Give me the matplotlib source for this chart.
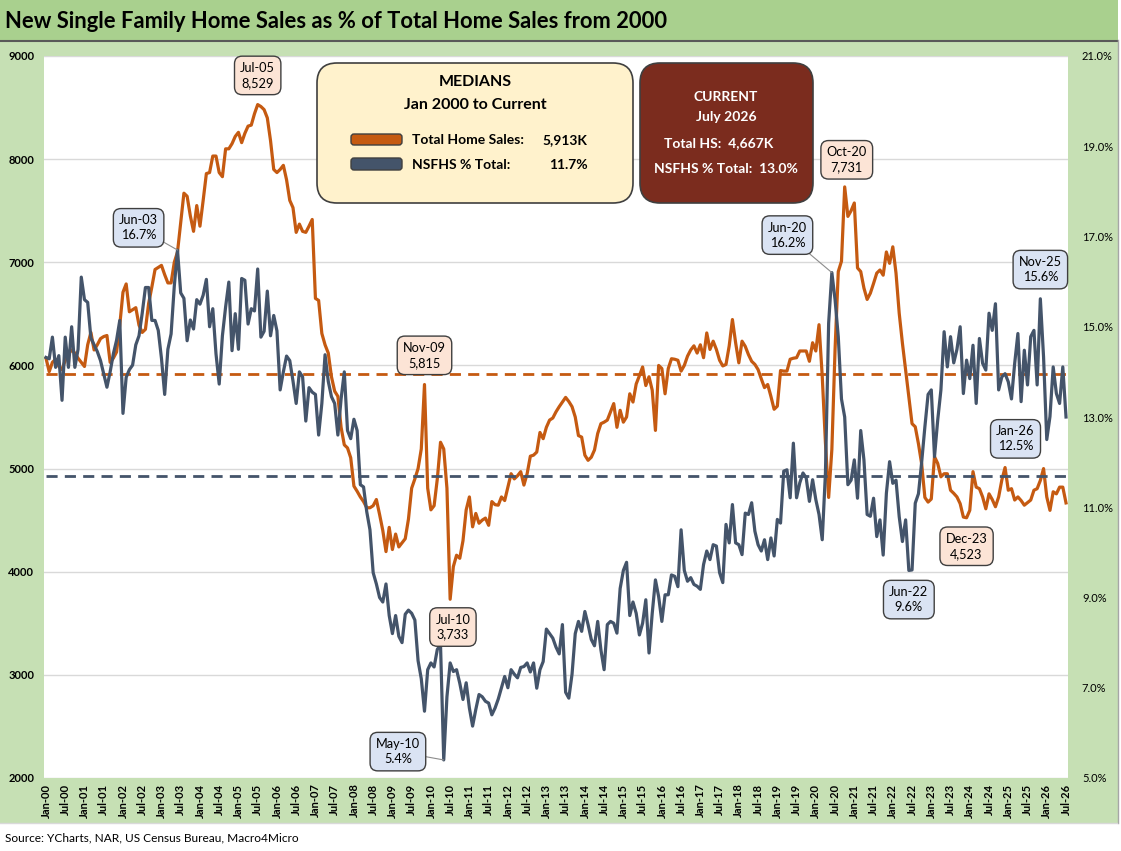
import matplotlib
matplotlib.use("Agg")
import matplotlib.pyplot as plt
from matplotlib.patches import Rectangle, FancyBboxPatch
import numpy as np
import pandas as pd

plt.rcParams["font.family"] = ["Lato", "DejaVu Sans"]

# Total home sales (thousands, SAAR), monthly Jan-00 .. Jul-26
sales_2000 = [6070, 5940, 6030, 6060, 5990, 5960, 6050, 6110, 6150, 6120, 6070, 6030]
sales_2001 = [5990, 6200, 6320, 6150, 6200, 6260, 6280, 6290, 6030, 6070, 6130, 6390]
sales_2002 = [6710, 6790, 6520, 6540, 6560, 6390, 6320, 6350, 6600, 6760, 6930, 6950]
sales_2003 = [6970, 6880, 6800, 6800, 7000, 7100, 7390, 7670, 7640, 7450, 7300, 7550]
sales_2004 = [7350, 7600, 7860, 7870, 8030, 8030, 7870, 7830, 8100, 8100, 8150, 8220]
sales_2005 = [8260, 8160, 8250, 8320, 8330, 8440, 8529, 8510, 8480, 8400, 8180, 7900]
sales_2006 = [7870, 7900, 7940, 7800, 7600, 7530, 7290, 7370, 7300, 7290, 7350, 7415]
sales_2007 = [6650, 6630, 6310, 6200, 6120, 5890, 5750, 5700, 5400, 5230, 5200, 5105]
sales_2008 = [4830, 4780, 4725, 4680, 4620, 4620, 4640, 4700, 4555, 4400, 4195, 4430]
sales_2009 = [4215, 4365, 4240, 4280, 4320, 4510, 4810, 4900, 5000, 5190, 5815, 4810]
sales_2010 = [4600, 4640, 4900, 5255, 5190, 4810, 3733, 4050, 4160, 4130, 4300, 4600]
sales_2011 = [4725, 4435, 4565, 4470, 4500, 4520, 4450, 4680, 4650, 4645, 4725, 4690]
sales_2012 = [4820, 4950, 4900, 4930, 4970, 4840, 4950, 5120, 5130, 5160, 5350, 5290]
sales_2013 = [5400, 5470, 5490, 5550, 5600, 5645, 5690, 5650, 5600, 5500, 5320, 5305]
sales_2014 = [5130, 5080, 5110, 5180, 5340, 5435, 5450, 5470, 5550, 5630, 5400, 5565]
sales_2015 = [5450, 5500, 5725, 5645, 5820, 5900, 5985, 5805, 5890, 5760, 5370, 6000]
sales_2016 = [5970, 5725, 5970, 6065, 6060, 6050, 5945, 6000, 6090, 6150, 6190, 6120]
sales_2017 = [6200, 6075, 6315, 6155, 6235, 6155, 6050, 5995, 6010, 6190, 6445, 6220]
sales_2018 = [6025, 6235, 6185, 6105, 6040, 6010, 5960, 5870, 5785, 5815, 5700, 5575]
sales_2019 = [5605, 5950, 5945, 5945, 6060, 6070, 6075, 6140, 6140, 6140, 6040, 6220]
sales_2020 = [6140, 6395, 5895, 5250, 4720, 5185, 6155, 6910, 7010, 7731, 7445, 7500]
sales_2021 = [7575, 6945, 6910, 6750, 6640, 6700, 6795, 6895, 6925, 6875, 7100, 6990]
sales_2022 = [7150, 6895, 6505, 6215, 5955, 5695, 5435, 5405, 5240, 5045, 4720, 4675]
sales_2023 = [4705, 5115, 5050, 4920, 4950, 4950, 4790, 4760, 4725, 4660, 4530, 4523]
sales_2024 = [4595, 4970, 4820, 4805, 4725, 4610, 4755, 4700, 4630, 4725, 4890, 5010]
sales_2025 = [4790, 4805, 4695, 4725, 4690, 4645, 4670, 4695, 4790, 4805, 4885, 5000]
sales_2026 = [4725, 4595, 4775, 4755, 4820, 4820, 4667]

# New single family home sales as % of total
pct_2000 = [14.32, 14.29, 14.77, 14.1, 14.36, 13.37, 14.77, 14.1, 15.0, 14.1, 14.5, 16.1]
pct_2001 = [15.6, 15.54, 14.75, 14.6, 14.45, 14.25, 13.95, 13.66, 14.0, 14.4, 14.7, 15.14]
pct_2002 = [13.08, 13.88, 14.05, 14.15, 14.6, 14.8, 15.3, 15.87, 15.87, 15.14, 15.14, 14.92]
pct_2003 = [14.3, 13.5, 14.5, 14.84, 15.9, 16.7, 15.75, 15.63, 14.69, 15.15, 14.95, 15.6]
pct_2004 = [15.5, 15.7, 16.05, 15.0, 15.4, 14.4, 13.73, 14.8, 15.44, 15.99, 14.47, 15.29]
pct_2005 = [14.5, 16.07, 16.03, 15.06, 15.4, 15.35, 16.28, 14.77, 14.9, 15.79, 14.8, 15.25]
pct_2006 = [14.91, 13.6, 14.0, 14.35, 14.25, 13.8, 13.3, 14.0, 13.89, 12.91, 13.65, 13.55]
pct_2007 = [13.5, 12.6, 13.3, 14.38, 13.79, 13.45, 13.3, 12.6, 13.4, 14.0, 12.7, 12.52]
pct_2008 = [12.95, 12.7, 11.5, 11.45, 10.9, 10.5, 9.55, 9.3, 9.0, 8.9, 9.3, 8.6]
pct_2009 = [8.2, 8.6, 8.14, 8.0, 8.63, 8.72, 8.65, 8.5, 7.6, 7.2, 6.48, 7.4]
pct_2010 = [7.55, 7.46, 7.85, 7.95, 5.4, 6.8, 7.55, 7.36, 7.4, 7.1, 6.74, 7.11]
pct_2011 = [6.55, 6.15, 6.52, 6.85, 6.8, 6.7, 6.66, 6.4, 6.55, 6.75, 7.0, 7.25]
pct_2012 = [7.0, 7.4, 7.3, 7.22, 7.45, 7.47, 7.55, 7.35, 7.55, 6.99, 7.4, 7.58]
pct_2013 = [8.3, 8.2, 8.1, 7.9, 7.75, 8.4, 6.9, 6.77, 7.3, 8.2, 8.47, 8.25]
pct_2014 = [8.69, 8.4, 8.07, 7.93, 8.47, 7.84, 7.4, 8.4, 8.47, 8.43, 8.21, 9.2]
pct_2015 = [9.6, 9.78, 8.6, 8.9, 8.65, 8.17, 8.43, 8.95, 7.77, 8.65, 9.39, 9.02]
pct_2016 = [8.47, 9.06, 9.06, 9.5, 9.47, 9.24, 10.5, 9.6, 9.36, 9.44, 9.29, 9.25]
pct_2017 = [9.18, 9.73, 10.03, 9.84, 10.17, 10.14, 9.55, 9.33, 10.62, 10.21, 11.06, 10.21]
pct_2018 = [10.17, 9.95, 10.87, 10.84, 11.1, 10.47, 10.17, 10.03, 10.28, 9.84, 10.32, 9.92]
pct_2019 = [10.73, 10.65, 11.8, 11.83, 11.21, 12.42, 11.21, 11.54, 11.76, 11.65, 11.13, 11.61]
pct_2020 = [11.17, 10.84, 10.28, 11.76, 15.08, 16.2, 15.6, 14.78, 13.4, 13.0, 11.5, 11.6]
pct_2021 = [12.05, 11.2, 12.7, 12.05, 10.84, 10.8, 11.2, 10.35, 10.72, 9.94, 11.31, 12.01]
pct_2022 = [11.53, 11.6, 10.79, 10.24, 10.72, 9.6, 9.61, 11.09, 11.3, 12.0, 12.78, 13.5]
pct_2023 = [13.6, 12.12, 12.93, 13.6, 14.89, 14.11, 14.78, 14.2, 14.5, 15.0, 13.52, 14.26]
pct_2024 = [13.85, 14.59, 13.3, 14.74, 14.19, 14.04, 15.3, 14.92, 15.51, 13.6, 13.89, 13.96]
pct_2025 = [13.78, 13.4, 14.19, 14.85, 13.34, 14.48, 13.71, 14.78, 14.92, 13.71, 15.62, 14.33]
pct_2026 = [12.5, 13.01, 14.11, 13.52, 13.3, 14.11, 13.0]

median_sales = 5913
median_pct = 11.7

# points called out on the chart
sales_callouts = ["2005-07", "2009-11", "2010-07", "2020-10", "2023-12"]
pct_callouts = ["2003-06", "2010-05", "2020-06", "2022-06", "2025-11", "2026-01"]

total_sales = (sales_2000 + sales_2001 + sales_2002 + sales_2003 + sales_2004 + sales_2005
               + sales_2006 + sales_2007 + sales_2008 + sales_2009 + sales_2010 + sales_2011
               + sales_2012 + sales_2013 + sales_2014 + sales_2015 + sales_2016 + sales_2017
               + sales_2018 + sales_2019 + sales_2020 + sales_2021 + sales_2022 + sales_2023
               + sales_2024 + sales_2025 + sales_2026)
nsfhs_pct = (pct_2000 + pct_2001 + pct_2002 + pct_2003 + pct_2004 + pct_2005 + pct_2006
             + pct_2007 + pct_2008 + pct_2009 + pct_2010 + pct_2011 + pct_2012 + pct_2013
             + pct_2014 + pct_2015 + pct_2016 + pct_2017 + pct_2018 + pct_2019 + pct_2020
             + pct_2021 + pct_2022 + pct_2023 + pct_2024 + pct_2025 + pct_2026)

dates = pd.date_range("2000-01-01", periods=len(total_sales), freq="MS")
idx = np.arange(len(dates))

ORANGE = "#C55A11"
BLUE = "#44546A"
W, H = 1121, 851

fig = plt.figure(figsize=(W / 100, H / 100), dpi=100, facecolor="#C6E0B4")

# background bands
fig.add_artist(Rectangle((0, 1 - 40 / H), 1, 40 / H, transform=fig.transFigure,
                         fc="#A9D08E", ec="none", zorder=-5))
fig.add_artist(Rectangle((0, 0), 1, 28 / H, transform=fig.transFigure,
                         fc="white", ec="none", zorder=-5))
fig.add_artist(Rectangle((1118 / W, 0), 3 / W, 1, transform=fig.transFigure,
                         fc="white", ec="none", zorder=-5))

ax = fig.add_axes([44 / W, 1 - 778 / H, (1068 - 44) / W, (778 - 56) / H])
ax.set_facecolor("white")
for s in ax.spines.values():
    s.set_visible(False)
ax.set_xlim(-0.62, idx[-1] + 0.62)
ax.set_ylim(2000, 9000)
ax.set_yticks(range(2000, 9001, 1000))
ax.yaxis.grid(True, color="#D9D9D9", lw=1)
ax.set_axisbelow(True)
ax.tick_params(axis="y", length=0, pad=7, labelsize=8)
for t in ax.get_yticklabels():
    t.set_fontweight("bold")
ax.set_xticks(idx[::6])
ax.set_xticklabels([d.strftime("%b-%y") for d in dates[::6]], rotation=90,
                   fontsize=8, fontweight="bold")
ax.tick_params(axis="x", length=0, pad=4)

ax.plot(idx, total_sales, color=ORANGE, lw=2.3, zorder=3)
ax.plot([idx[0], idx[-1]], [median_sales, median_sales], color=ORANGE, lw=2,
        dashes=(4, 2.6), zorder=2)

ax2 = ax.twinx()
for s in ax2.spines.values():
    s.set_visible(False)
ax2.set_ylim(5, 21)
ax2.set_yticks(np.arange(5, 21.1, 2))
ax2.set_yticklabels([f"{v:.1f}%" for v in np.arange(5, 21.1, 2)])
ax2.tick_params(axis="y", length=0, pad=10, labelsize=8)
ax2.plot(idx, nsfhs_pct, color=BLUE, lw=2.3, zorder=3)
ax2.plot([idx[0], idx[-1]], [median_pct, median_pct], color=BLUE, lw=2,
         dashes=(4, 2.6), zorder=2)

# callout boxes (offsets in points from the data point)
sales_offsets = [(0, 21), (0, 21), (2, -20), (1.5, 19.5), (0, -20.5)]
pct_offsets = [(-28, 16), (-33, 6), (-32, 27), (0, -21), (0, 21), (-22.5, 0.5)]
leader = {"2003-06", "2010-05", "2020-06"}

date_keys = list(dates.strftime("%Y-%m"))
for key, off in zip(sales_callouts, sales_offsets):
    i = date_keys.index(key)
    ax2.annotate(f"{dates[i]:%b-%y}\n{total_sales[i]:,.0f}", xy=(i, total_sales[i]),
                 xycoords=ax.transData, xytext=off, textcoords="offset points",
                 ha="center", va="center", fontsize=9.2, linespacing=1.3, zorder=6,
                 bbox=dict(boxstyle="round,pad=0.45,rounding_size=0.6",
                           fc="#FCE4D6", ec="#3F3F3F", lw=1))
for key, off in zip(pct_callouts, pct_offsets):
    i = date_keys.index(key)
    arrow = None
    if key in leader:
        arrow = dict(arrowstyle="-", color="#8C8C8C", lw=0.8, shrinkA=0, shrinkB=0)
    ax2.annotate(f"{dates[i]:%b-%y}\n{nsfhs_pct[i]:.1f}%", xy=(i, nsfhs_pct[i]),
                 xytext=off, textcoords="offset points", arrowprops=arrow,
                 ha="center", va="center", fontsize=9.2, linespacing=1.3, zorder=6,
                 bbox=dict(boxstyle="round,pad=0.45,rounding_size=0.6",
                           fc="#DAE3F3", ec="#3F3F3F", lw=1))

# overlay in pixel coordinates for title, info boxes and source
ov = fig.add_axes([0, 0, 1, 1], zorder=10)
ov.set_xlim(0, W)
ov.set_ylim(H, 0)
ov.axis("off")
ov.patch.set_alpha(0)

ov.plot([0, 1117], [40.5, 40.5], color="#595959", lw=1.5)
ov.plot([1117.5, 1117.5], [40, 823], color="#A6A6A6", lw=1)
ov.plot([0, 1117], [823, 823], color="#D9D9D9", lw=1)

ov.text(5, 21, "New Single Family Home Sales as % of Total Home Sales from 2000",
        ha="left", va="center", fontsize=15.8, fontweight="bold")
ov.text(5, 838, "Source: YCharts, NAR, US Census Bureau, Macro4Micro",
        ha="left", va="center", fontsize=8.6)

ov.add_patch(FancyBboxPatch((317, 63), 316, 140, boxstyle="round,pad=0,rounding_size=20",
                            fc="#FFF2CC", ec="#3F3F3F", lw=1.2))
ov.text(475, 82, "MEDIANS", ha="center", va="center", fontsize=11.5, fontweight="bold")
ov.text(475, 105, "Jan 2000 to Current", ha="center", va="center", fontsize=11.5,
        fontweight="bold")
ov.add_patch(FancyBboxPatch((351, 134), 51, 11, boxstyle="round,pad=0,rounding_size=3",
                            fc=ORANGE, ec="#3F3F3F", lw=1))
ov.add_patch(FancyBboxPatch((351, 158), 51, 12, boxstyle="round,pad=0,rounding_size=3",
                            fc=BLUE, ec="#3F3F3F", lw=1))
ov.text(412, 140, "Total Home Sales:", ha="left", va="center", fontsize=10, fontweight="bold")
ov.text(587, 140, f"{median_sales:,}K", ha="right", va="center", fontsize=10,
        fontweight="bold")
ov.text(412, 165, "NSFHS % Total:", ha="left", va="center", fontsize=10, fontweight="bold")
ov.text(588, 165, f"{median_pct:.1f}%", ha="right", va="center", fontsize=10,
        fontweight="bold")

ov.add_patch(FancyBboxPatch((640, 63), 173, 140, boxstyle="round,pad=0,rounding_size=20",
                            fc="#7B2C1E", ec="#3F3F3F", lw=1.2))
cur = dates[-1]
ov.text(726, 97, "CURRENT", ha="center", va="center", fontsize=10, fontweight="bold",
        color="white")
ov.text(726, 117, cur.strftime("%B %Y"), ha="center", va="center", fontsize=10,
        fontweight="bold", color="white")
ov.text(719, 143, f"Total HS:  {total_sales[-1]:,}K", ha="center", va="center",
        fontsize=10, fontweight="bold", color="white")
ov.text(726, 169, f"NSFHS % Total:  {nsfhs_pct[-1]:.1f}%", ha="center", va="center",
        fontsize=10, fontweight="bold", color="white")

fig.savefig("out.png", dpi=100, facecolor=fig.get_facecolor())
